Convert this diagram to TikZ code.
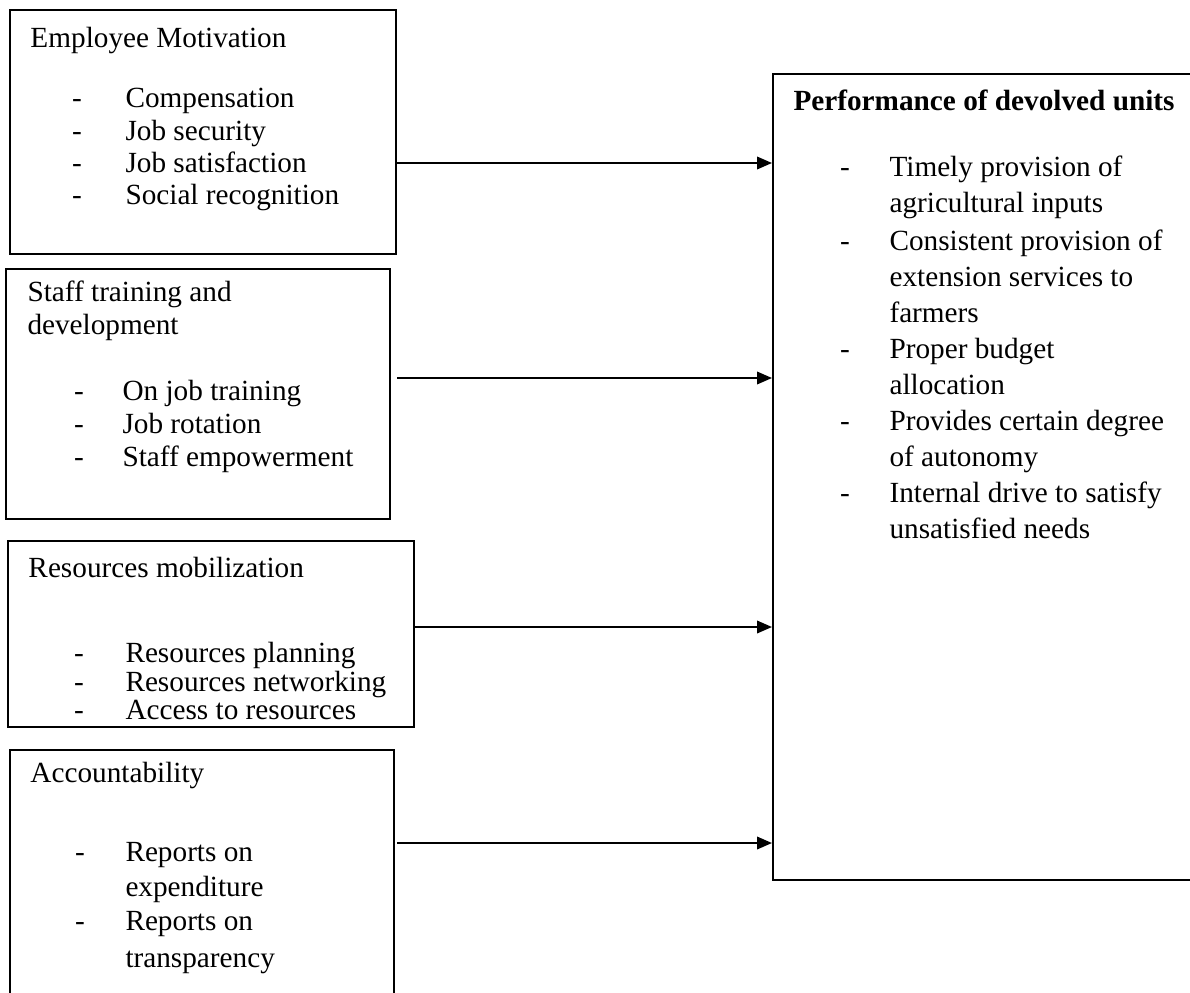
\documentclass[tikz,border=0pt]{standalone}
\usepackage{fontspec}
\setmainfont{Liberation Serif}
\usetikzlibrary{arrows.meta}
\begin{document}
\begin{tikzpicture}[x=0.4pt,y=-0.4pt,
  box/.style={draw, line width=0.8pt, inner sep=0pt, anchor=north west},
  txt/.style={inner sep=0pt, anchor=base west, font=\fontsize{11.7}{14}\selectfont},
  hd/.style={txt, font=\fontsize{11.7}{14}\selectfont\bfseries},
  dsh/.style={inner sep=0pt, anchor=base, font=\fontsize{11.7}{14}\selectfont},
  conn/.style={line width=0.8pt, -{Triangle[length=6pt,width=5pt]}}]
\clip (0,0) rectangle (1190,992);
% boxes
\node[box, minimum width=154.4pt, minimum height=97.6pt] (b1) at (9,9) {};
\node[box, minimum width=153.6pt, minimum height=100pt] (b2) at (5,268) {};
\node[box, minimum width=162.4pt, minimum height=74.4pt] (b3) at (7,540) {};
\node[box, minimum width=153.6pt, minimum height=104.4pt] (b4) at (9,749) {};
\node[box, minimum width=171.2pt, minimum height=322.4pt] (R) at (772,73) {};
% box 1
\node[txt] (t1) at (30,48) {Employee Motivation};
\node[dsh] (d11) at (77,108) {-};
\node[txt] (i11) at (125,108) {Compensation};
\node[dsh] (d12) at (77,141) {-};
\node[txt] (i12) at (125,141) {Job security};
\node[dsh] (d13) at (77,173) {-};
\node[txt] (i13) at (125,173) {Job satisfaction};
\node[dsh] (d14) at (77,205) {-};
\node[txt] (i14) at (125,205) {Social recognition};
% box 2
\node[txt] (t2a) at (27,301) {Staff training and};
\node[txt] (t2b) at (27,334) {development};
\node[dsh] (d21) at (79,400) {-};
\node[txt] (i21) at (122,400) {On job training};
\node[dsh] (d22) at (79,433) {-};
\node[txt] (i22) at (122,433) {Job rotation};
\node[dsh] (d23) at (79,466) {-};
\node[txt] (i23) at (122,466) {Staff empowerment};
% box 3
\node[txt] (t3) at (28,577) {Resources mobilization};
\node[dsh] (d31) at (79,662) {-};
\node[txt] (i31) at (125,662) {Resources planning};
\node[dsh] (d32) at (79,691) {-};
\node[txt] (i32) at (125,691) {Resources networking};
\node[dsh] (d33) at (79,719) {-};
\node[txt] (i33) at (125,719) {Access to resources};
% box 4
\node[txt] (t4) at (30,782) {Accountability};
\node[dsh] (d41) at (80,861) {-};
\node[txt] (i41) at (125,861) {Reports on};
\node[txt] (i42) at (125,896) {expenditure};
\node[dsh] (d42) at (80,930) {-};
\node[txt] (i43) at (125,930) {Reports on};
\node[txt] (i44) at (125,967) {transparency};
% right box
\node[hd] (tR) at (793,111) {Performance of devolved units};
\node[dsh] (dR1) at (845,177) {-};
\node[txt] (r1) at (889,177) {Timely provision of};
\node[txt] (r2) at (889,213) {agricultural inputs};
\node[dsh] (dR2) at (845,250) {-};
\node[txt] (r3) at (889,250) {Consistent provision of};
\node[txt] (r4) at (889,286) {extension services to};
\node[txt] (r5) at (889,322) {farmers};
\node[dsh] (dR3) at (845,358) {-};
\node[txt] (r6) at (889,358) {Proper budget};
\node[txt] (r7) at (889,394) {allocation};
\node[dsh] (dR4) at (845,430) {-};
\node[txt] (r8) at (889,430) {Provides certain degree};
\node[txt] (r9) at (889,466) {of autonomy};
\node[dsh] (dR5) at (845,502) {-};
\node[txt] (r10) at (889,502) {Internal drive to satisfy};
\node[txt] (r11) at (889,538) {unsatisfied needs};
% connectors
\coordinate (s1) at (395,163);
\coordinate (s2) at (397,378);
\coordinate (s3) at (413,627);
\coordinate (s4) at (397,843);
\draw[conn] (s1) -- (R.west |- s1);
\draw[conn] (s2) -- (R.west |- s2);
\draw[conn] (s3) -- (R.west |- s3);
\draw[conn] (s4) -- (R.west |- s4);
\end{tikzpicture}
\end{document}
